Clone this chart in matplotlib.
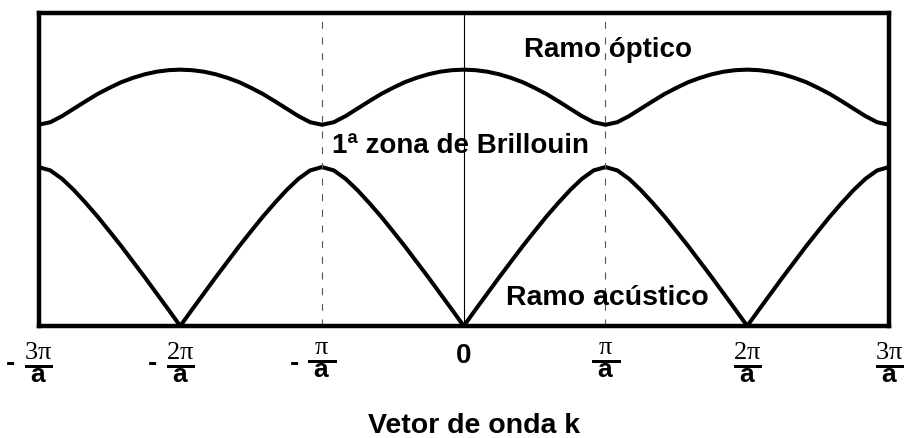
import numpy as np
import matplotlib
matplotlib.use('Agg')
import matplotlib.pyplot as plt
from matplotlib.transforms import blended_transform_factory

plt.rcParams['font.family'] = ['Liberation Sans', 'DejaVu Sans']
plt.rcParams['mathtext.fontset'] = 'custom'
plt.rcParams['mathtext.rm'] = 'Liberation Serif'
plt.rcParams['mathtext.bf'] = 'Liberation Sans:bold'

# Wave vector in units of pi/a, sampled every pi/(12a) over -3pi/a .. 3pi/a
k_steps = list(range(-36, 37))
k_per_step = 1 / 12

# Frequencies (normalised to the optical maximum)
omega_optical = [
    0.785, 0.795, 0.819, 0.848, 0.877, 0.905, 0.929, 0.951, 0.968, 0.982, 0.992, 0.998,
    1.000, 0.998, 0.992, 0.982, 0.968, 0.951, 0.929, 0.905, 0.877, 0.848, 0.819, 0.795,
    0.785, 0.795, 0.819, 0.848, 0.877, 0.905, 0.929, 0.951, 0.968, 0.982, 0.992, 0.998,
    1.000, 0.998, 0.992, 0.982, 0.968, 0.951, 0.929, 0.905, 0.877, 0.848, 0.819, 0.795,
    0.785, 0.795, 0.819, 0.848, 0.877, 0.905, 0.929, 0.951, 0.968, 0.982, 0.992, 0.998,
    1.000, 0.998, 0.992, 0.982, 0.968, 0.951, 0.929, 0.905, 0.877, 0.848, 0.819, 0.795,
    0.785,
]
omega_acoustic = [
    0.620, 0.607, 0.574, 0.530, 0.480, 0.427, 0.370, 0.312, 0.251, 0.190, 0.127, 0.064,
    0.000, 0.064, 0.127, 0.190, 0.251, 0.312, 0.370, 0.427, 0.480, 0.530, 0.574, 0.607,
    0.620, 0.607, 0.574, 0.530, 0.480, 0.427, 0.370, 0.312, 0.251, 0.190, 0.127, 0.064,
    0.000, 0.064, 0.127, 0.190, 0.251, 0.312, 0.370, 0.427, 0.480, 0.530, 0.574, 0.607,
    0.620, 0.607, 0.574, 0.530, 0.480, 0.427, 0.370, 0.312, 0.251, 0.190, 0.127, 0.064,
    0.000, 0.064, 0.127, 0.190, 0.251, 0.312, 0.370, 0.427, 0.480, 0.530, 0.574, 0.607,
    0.620,
]

tick_positions = [-3, -2, -1, 0, 1, 2, 3]
tick_numerators = ['3\\pi', '2\\pi', '\\pi', '0', '\\pi', '2\\pi', '3\\pi']
tick_denominator = 'a'
zone_edges = [-1, 1]

k = np.array(k_steps) * k_per_step

fig = plt.figure(figsize=(9.06, 4.39), dpi=100)
ax = fig.add_axes([0.0425, 0.2551, 0.9387, 0.713])

ax.plot(k, omega_optical, color='black', lw=2.9, solid_capstyle='butt')
ax.plot(k, omega_acoustic, color='black', lw=2.9, solid_capstyle='butt')

ax.axvline(0, color='black', lw=0.8)
for edge in zone_edges:
    ax.axvline(edge, color='#555555', lw=0.8, linestyle=(0, (6.3, 7.8)))

ax.set_xlim(-3, 3)
ax.set_ylim(0, 1.221)
ax.set_xticks([])
ax.set_yticks([])
for side in ['top', 'bottom', 'left', 'right']:
    ax.spines[side].set_linewidth(3.2)

# k labels as stacked fractions under the frame (x in data, y in axes fraction)
trans = blended_transform_factory(ax.transData, ax.transAxes)
px_x = 1 / 141.75   # data units per pixel along k
px_y = 1 / 313.0    # axes fraction per pixel vertically
for pos, num in zip(tick_positions, tick_numerators):
    if num == '0':
        ax.text(pos, -36.3 * px_y, num, transform=trans, ha='center', va='baseline',
                fontsize=20, fontweight='bold')
        continue
    # pad a lone pi so the fraction bar keeps the same width as for 2pi, 3pi
    top = num if len(num) > 3 else '\\;' + num + '\\;'
    label = r'$\genfrac{}{}{3}{0}{\mathrm{%s}}{\mathbf{%s}}$' % (top, tick_denominator)
    ax.text(pos, -13.5 * px_y, label, transform=trans, ha='center', va='top',
            fontsize=19)
    if pos < 0:
        ax.text(pos - 23 * px_x, -43.5 * px_y, '-', transform=trans, ha='right',
                va='baseline', fontsize=20, fontweight='bold')

ax.text(1.0155, 1.0546, 'Ramo óptico', ha='center', va='baseline',
        fontsize=20, fontweight='bold')
ax.text(-0.0194, 0.679, '1ª zona de Brillouin', ha='center', va='baseline',
        fontsize=20, fontweight='bold')
ax.text(1.0155, 0.0858, 'Ramo acústico', ha='center', va='baseline',
        fontsize=20.5, fontweight='bold')

fig.text(474.5 / 906, 6 / 439, 'Vetor de onda k', ha='center', va='baseline',
         fontsize=20.5, fontweight='bold')

fig.savefig('out.png', dpi=100)
